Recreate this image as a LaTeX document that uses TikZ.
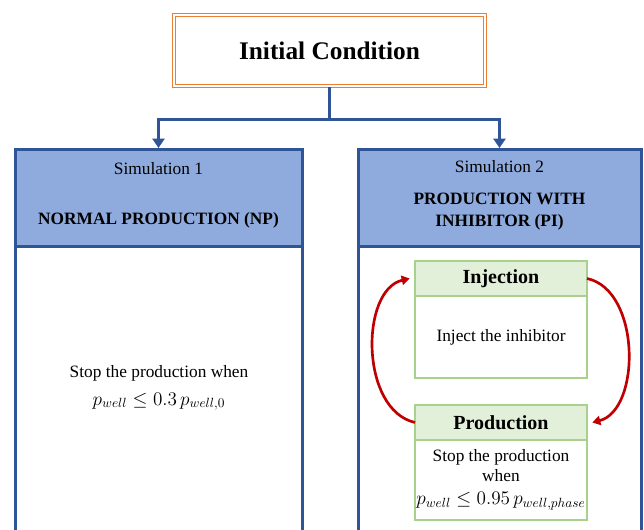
\documentclass[tikz,border=0pt]{standalone}
\usepackage{fontspec}
\setmainfont{Liberation Serif}
\usetikzlibrary{
  arrows.meta,
  positioning
}
\definecolor{initorange}{HTML}{ED7D31}
\definecolor{simblue}{HTML}{2F5597}
\definecolor{simfill}{HTML}{8FAADC}
\definecolor{stepgreen}{HTML}{A9D18E}
\definecolor{stepfill}{HTML}{E2F0D9}
\definecolor{cyclered}{HTML}{C00000}
\newcommand\bigmath[1]{{\fontsize{14.7}{17}\selectfont$#1$}}

\begin{document}
\begin{tikzpicture}[
  x=0.75pt, y=-0.75pt,
  initbox/.style={
    draw=initorange, double=white, double distance=1.1pt, line width=1.1pt,
    minimum width=233pt, minimum height=53pt,
    font=\fontsize{19}{23}\selectfont\bfseries
  },
  simhead/.style={
    draw=simblue, fill=simfill, line width=2.25pt, outer sep=0pt,
    minimum height=72.75pt, align=center, text depth=7pt,
    font=\fontsize{13}{15.6}\selectfont
  },
  simside/.style={draw=simblue, line width=2.25pt},
  flow/.style={
    draw=simblue, line width=2.25pt,
    -{Triangle[width=9pt,length=7pt]}
  },
  stephead/.style={
    draw=stepgreen, fill=stepfill, line width=0.9pt, outer sep=0pt,
    minimum width=129pt, minimum height=26.25pt,
    font=\fontsize{15}{18}\selectfont\bfseries
  },
  stepbody/.style={
    draw=stepgreen, line width=0.9pt, outer sep=0pt, inner xsep=0pt,
    minimum width=129pt, align=center,
    font=\fontsize{13}{15}\selectfont
  },
  cyclearrow/.style={
    draw=cyclered, line width=2pt,
    -{Triangle[width=7pt,length=6pt]}
  }
]
\useasboundingbox (0,0) rectangle (644,530);

\node[initbox] (init) at (329.5,50.5) {Initial Condition};

\node[simhead, minimum width=215.25pt] (np) at (158.5,198.5)
  {Simulation 1\\[22pt]\textbf{NORMAL PRODUCTION (NP)}};
\node[simhead, minimum width=212.25pt] (pi) at (499.5,198.5)
  {Simulation 2\\[8pt]\textbf{PRODUCTION WITH}\\[1.5pt]\textbf{INHIBITOR (PI)}};

\coordinate (bottom) at (0,545);
\draw[simside] (np.south west) -- (np.south west |- bottom)
  (np.south east) -- (np.south east |- bottom);
\draw[simside] (pi.south west) -- (pi.south west |- bottom)
  (pi.south east) -- (pi.south east |- bottom);

\coordinate (fork) at (329.5,120);
\draw[simside] (init.south) -- (fork);
\draw[flow] (fork) -| ([yshift=1.5pt]np.north);
\draw[flow] (fork) -| ([yshift=1.5pt]pi.north);

\node[align=center, font=\fontsize{13}{15.6}\selectfont] (nptext) at (159,388)
  {Stop the production when\\[5pt]\bigmath{p_{well} \leq 0.3\, p_{well,0}}};

\node[stephead] (injhead) at (501,278.5) {Injection};
\node[stepbody, minimum height=61.5pt, below=0pt of injhead] (injbody)
  {Inject the inhibitor};

\node[stephead] (prodhead) at (501,422.5) {Production};
\node[stepbody, minimum height=60pt, below=0pt of prodhead] (prodbody)
  {Stop the production\\when\\[2pt]\bigmath{p_{well} \leq 0.95\, p_{well,phase}}};

\draw[cyclearrow] (prodhead.west) .. controls (360,410) and (360,290)
  .. ([xshift=-4pt]injhead.west);
\draw[cyclearrow] (injhead.east) .. controls (641,290) and (641,410)
  .. ([xshift=4pt]prodhead.east);
\end{tikzpicture}
\end{document}
